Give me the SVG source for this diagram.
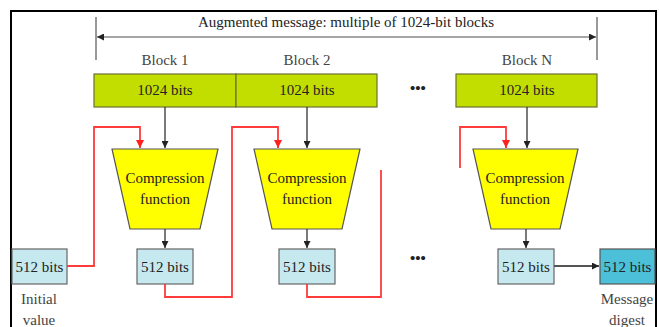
<svg xmlns="http://www.w3.org/2000/svg" width="659" height="327" viewBox="0 0 659 327">
  <style>
    text { font-family: "Liberation Serif", "Times New Roman", serif; fill: #222; text-anchor: middle; }
    .lbl { font-size: 15px; }
    .cap { font-size: 15px; fill: #444; }
    .block { fill: #c2de00; stroke: #6b7030; stroke-width: 1.2; }
    .comp { fill: #ffff00; stroke: #555; stroke-width: 1.2; }
    .h { fill: #c6e9f0; stroke: #666; stroke-width: 1.2; }
    .dig { fill: #4cc0d8; stroke: #555; stroke-width: 1.2; }
    .flow { fill: none; stroke: #333; stroke-width: 1.3; }
    .chain { fill: none; stroke: #ff3b3b; stroke-width: 1.8; }
    .dots { font-size: 15px; font-weight: bold; }
  </style>
  <defs>
    <marker id="ah" viewBox="0 0 10 10" refX="10" refY="5" markerWidth="7" markerHeight="7" markerUnits="userSpaceOnUse" orient="auto">
      <path d="M0,0 L10,5 L0,10 z" fill="#222"/>
    </marker>
    <marker id="ahr" viewBox="0 0 10 10" refX="10" refY="5" markerWidth="8" markerHeight="8" markerUnits="userSpaceOnUse" orient="auto">
      <path d="M0,0 L10,5 L0,10 z" fill="#ff2020"/>
    </marker>
  </defs>

  <rect x="0" y="0" width="659" height="327" fill="#ffffff"/>
  <!-- outer frame -->
  <path d="M11,330 L11,11 L656,11 L656,330" fill="none" stroke="#000" stroke-width="2"/>

  <!-- span of the augmented message -->
  <g id="span">
    <line x1="96" y1="17" x2="96" y2="60" stroke="#555" stroke-width="1.2"/>
    <line x1="597" y1="17" x2="597" y2="60" stroke="#555" stroke-width="1.2"/>
    <line x1="97" y1="37" x2="596" y2="37" stroke="#888" stroke-width="1.5" marker-start="url(#ah)" marker-end="url(#ah)" style="marker-start: url(#ahs)"/>
    <text class="lbl" x="346" y="27">Augmented message: multiple of 1024-bit blocks</text>
  </g>
  <defs>
    <marker id="ahs" viewBox="0 0 10 10" refX="0" refY="5" markerWidth="7" markerHeight="7" markerUnits="userSpaceOnUse" orient="auto">
      <path d="M10,0 L0,5 L10,10 z" fill="#222"/>
    </marker>
  </defs>

  <!-- message blocks -->
  <g id="block1">
    <text class="cap" x="165" y="65">Block 1</text>
    <rect class="block" x="94" y="74" width="142" height="33"/>
    <text class="lbl" x="165" y="95">1024 bits</text>
  </g>
  <g id="block2">
    <text class="cap" x="307" y="65">Block 2</text>
    <rect class="block" x="236" y="74" width="141" height="33"/>
    <text class="lbl" x="307" y="95">1024 bits</text>
  </g>
  <g id="blockN">
    <text class="cap" x="527" y="65">Block N</text>
    <rect class="block" x="456" y="74" width="141" height="33"/>
    <text class="lbl" x="527" y="95">1024 bits</text>
  </g>
  <text class="dots" x="418" y="93">•••</text>

  <!-- compression functions -->
  <g id="comp1">
    <polygon class="comp" points="112,149 218,149 200,229 130,229"/>
    <text class="lbl" x="165" y="183">Compression</text>
    <text class="lbl" x="165" y="204">function</text>
  </g>
  <g id="comp2">
    <polygon class="comp" points="254,149 360,149 342,229 272,229"/>
    <text class="lbl" x="307" y="183">Compression</text>
    <text class="lbl" x="307" y="204">function</text>
  </g>
  <g id="compN">
    <polygon class="comp" points="473,149 578,149 560,229 491,229"/>
    <text class="lbl" x="525" y="183">Compression</text>
    <text class="lbl" x="525" y="204">function</text>
  </g>

  <!-- chaining values -->
  <g id="iv">
    <rect class="h" x="12" y="249" width="55" height="35"/>
    <text class="lbl" x="39.5" y="272">512 bits</text>
    <text class="cap" x="39" y="304">Initial</text>
    <text class="cap" x="39" y="325">value</text>
  </g>
  <g id="h1">
    <rect class="h" x="137" y="249" width="56" height="35"/>
    <text class="lbl" x="165" y="272">512 bits</text>
  </g>
  <g id="h2">
    <rect class="h" x="279" y="249" width="56" height="35"/>
    <text class="lbl" x="307" y="272">512 bits</text>
  </g>
  <text class="dots" x="418" y="263">•••</text>
  <g id="hN">
    <rect class="h" x="498" y="249" width="56" height="35"/>
    <text class="lbl" x="526" y="272">512 bits</text>
  </g>
  <g id="digest">
    <rect class="dig" x="600" y="249" width="55" height="35"/>
    <text class="lbl" x="627.5" y="272">512 bits</text>
    <text class="cap" x="627" y="304">Message</text>
    <text class="cap" x="627" y="325">digest</text>
  </g>

  <!-- connectors -->
  <g id="connectors">
    <line class="flow" x1="165" y1="107" x2="165" y2="148" marker-end="url(#ah)"/>
    <line class="flow" x1="307" y1="107" x2="307" y2="148" marker-end="url(#ah)"/>
    <line class="flow" x1="527" y1="107" x2="527" y2="148" marker-end="url(#ah)"/>
    <line class="flow" x1="165" y1="229" x2="165" y2="248" marker-end="url(#ah)"/>
    <line class="flow" x1="307" y1="229" x2="307" y2="248" marker-end="url(#ah)"/>
    <line class="flow" x1="526" y1="229" x2="526" y2="248" marker-end="url(#ah)"/>
    <line x1="554" y1="266" x2="599" y2="266" stroke="#555" stroke-width="2" marker-end="url(#ah)"/>

    <polyline class="chain" points="67,266 94,266 94,127 140,127 140,148" marker-end="url(#ahr)"/>
    <polyline class="chain" points="165,284 165,297 232,297 232,127 278,127 278,148" marker-end="url(#ahr)"/>
    <polyline class="chain" points="307,284 307,297 381,297 381,170"/>
    <polyline class="chain" points="460,168 460,127 506,127 506,148" marker-end="url(#ahr)"/>
  </g>
</svg>
